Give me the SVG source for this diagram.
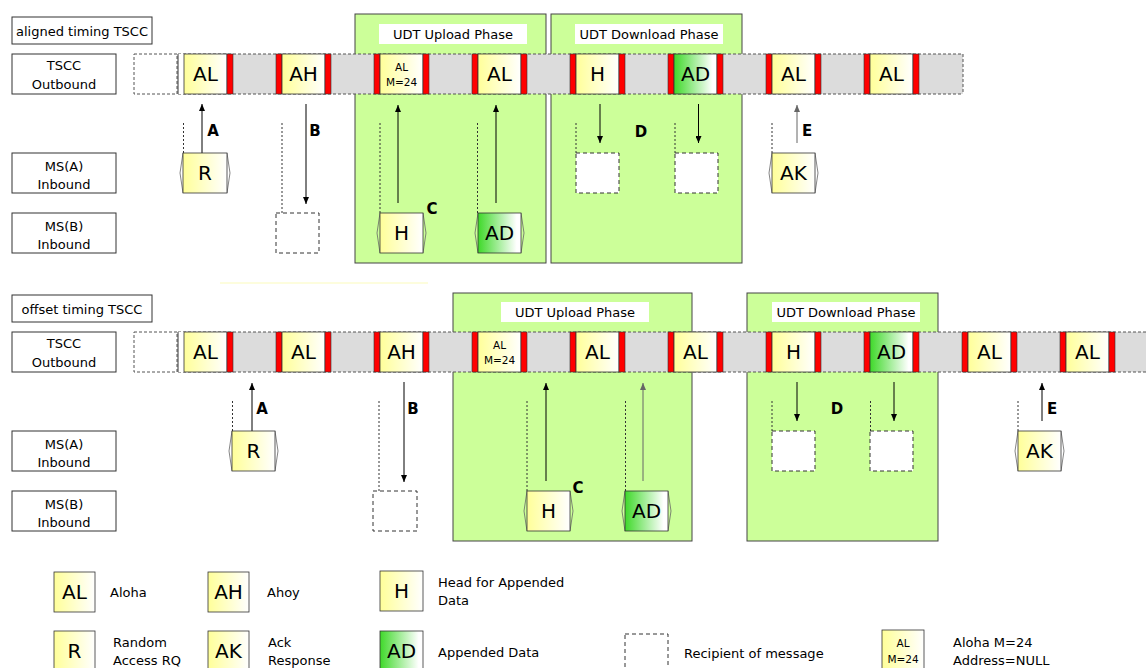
<svg xmlns="http://www.w3.org/2000/svg" width="1146" height="668" viewBox="0 0 1146 668">
<defs>
<linearGradient id="gy" x1="0" y1="0" x2="1" y2="0"><stop offset="0" stop-color="#ffff99"/><stop offset="1" stop-color="#ffffff"/></linearGradient>
<linearGradient id="gg" x1="0" y1="0" x2="1" y2="0"><stop offset="0" stop-color="#3fd92a"/><stop offset="0.9" stop-color="#ffffff"/></linearGradient>
<marker id="ah" markerWidth="7" markerHeight="6" viewBox="0 0 7 6" refX="7" refY="3" orient="auto" markerUnits="userSpaceOnUse"><path d="M0,0 L7,3 L0,6 z" fill="#000"/></marker>
<marker id="ahg" markerWidth="7" markerHeight="6" viewBox="0 0 7 6" refX="7" refY="3" orient="auto" markerUnits="userSpaceOnUse"><path d="M0,0 L7,3 L0,6 z" fill="#666"/></marker>
</defs>
<style>
.lb{fill:#fff;stroke:#333;stroke-width:1}
.t{font-family:"DejaVu Sans",sans-serif;fill:#000}
.ph{fill:#ccff99;stroke:#444;stroke-width:1}
.pt{fill:#fff}
.strip{fill:#dcdcdc}
.sd{stroke:#555;stroke-width:1;stroke-dasharray:3 2;fill:none}
.wb{fill:#fff;stroke:#555;stroke-width:1;stroke-dasharray:3 2}
.red{fill:#ff0000;stroke:#333;stroke-width:0.6}
.cy{fill:url(#gy);stroke:#333;stroke-width:0.8}
.cg{fill:url(#gg);stroke:#333;stroke-width:0.8}
.db{fill:#fff;stroke:#333;stroke-width:1;stroke-dasharray:4 3}
.dl{stroke:#333;stroke-width:1;stroke-dasharray:2 2}
.ar{stroke:#000;stroke-width:1;marker-end:url(#ah)}
.arg{stroke:#666;stroke-width:1;marker-end:url(#ahg)}
.ch{fill:none;stroke:#666;stroke-width:0.8}
.big{font-size:20px;text-anchor:middle}
.sm{font-size:10.5px;text-anchor:middle}
.let{font-size:15px;font-weight:bold;text-anchor:middle}
.lt{font-size:13px}
.c{text-anchor:middle}
</style>

<!-- faint line -->
<line x1="220" y1="283" x2="428" y2="283" stroke="#fcfcd2" stroke-width="1.5"/>

<!-- Row labels -->
<g id="r1-label"><rect class="lb" x="12" y="17" width="140" height="27"/><text class="t lt c" x="82" y="36">aligned timing TSCC</text></g>
<g id="r1-out"><rect class="lb" x="12" y="54" width="104" height="40"/><text class="t lt c" x="64" y="70">TSCC</text><text class="t lt c" x="64" y="89">Outbound</text></g>
<g id="r1-msa"><rect class="lb" x="12" y="153" width="104" height="40"/><text class="t lt c" x="64" y="171">MS(A)</text><text class="t lt c" x="64" y="189">Inbound</text></g>
<g id="r1-msb"><rect class="lb" x="12" y="213" width="104" height="40"/><text class="t lt c" x="64" y="231">MS(B)</text><text class="t lt c" x="64" y="249">Inbound</text></g>

<g id="r2-label"><rect class="lb" x="12" y="295" width="140" height="27"/><text class="t lt c" x="82" y="314">offset timing TSCC</text></g>
<g id="r2-out"><rect class="lb" x="12" y="332" width="104" height="40"/><text class="t lt c" x="64" y="348">TSCC</text><text class="t lt c" x="64" y="367">Outbound</text></g>
<g id="r2-msa"><rect class="lb" x="12" y="431" width="104" height="40"/><text class="t lt c" x="64" y="449">MS(A)</text><text class="t lt c" x="64" y="467">Inbound</text></g>
<g id="r2-msb"><rect class="lb" x="12" y="491" width="104" height="40"/><text class="t lt c" x="64" y="509">MS(B)</text><text class="t lt c" x="64" y="527">Inbound</text></g>

<!-- Phase boxes -->
<g id="r1-upload"><rect class="ph" x="355" y="14" width="191" height="249"/></g>
<g id="r1-download"><rect class="ph" x="551" y="14" width="191" height="249"/></g>
<g id="r2-upload"><rect class="ph" x="453" y="293" width="239" height="248"/></g>
<g id="r2-download"><rect class="ph" x="747" y="293" width="191" height="248"/></g>

<!-- Row 1 strip -->
<g id="r1-strip">
<rect class="wb" x="134" y="54" width="43" height="40"/>
<rect class="strip" x="178" y="54" width="785" height="40"/>
<line class="sd" x1="178" y1="54" x2="963" y2="54"/>
<line class="sd" x1="178" y1="94" x2="963" y2="94"/>
<line class="sd" x1="963" y1="54" x2="963" y2="94"/>
<rect x="178" y="54" width="6" height="40" fill="#fff"/>
<line x1="178" y1="54" x2="178" y2="94" stroke="#333" stroke-width="1"/>
</g>
<g id="r1-s0"><rect class="cy" x="184" y="54" width="43" height="40"/><rect class="red" x="227" y="54" width="6" height="40"/><text class="t big" x="205.5" y="81">AL</text></g>
<g id="r1-s1"><rect class="red" x="276" y="54" width="6" height="40"/><rect class="cy" x="282" y="54" width="43" height="40"/><rect class="red" x="325" y="54" width="6" height="40"/><text class="t big" x="303.5" y="81">AH</text></g>
<g id="r1-s2"><rect class="red" x="374" y="54" width="6" height="40"/><rect class="cy" x="380" y="54" width="43" height="40"/><rect class="red" x="423" y="54" width="6" height="40"/><text class="t sm" x="401.5" y="71">AL</text><text class="t sm" x="401.5" y="86">M=24</text></g>
<g id="r1-s3"><rect class="red" x="472" y="54" width="6" height="40"/><rect class="cy" x="478" y="54" width="43" height="40"/><rect class="red" x="521" y="54" width="6" height="40"/><text class="t big" x="499.5" y="81">AL</text></g>
<g id="r1-s4"><rect class="red" x="570" y="54" width="6" height="40"/><rect class="cy" x="576" y="54" width="43" height="40"/><rect class="red" x="619" y="54" width="6" height="40"/><text class="t big" x="597.5" y="81">H</text></g>
<g id="r1-s5"><rect class="red" x="668" y="54" width="6" height="40"/><rect class="cg" x="674" y="54" width="43" height="40"/><rect class="red" x="717" y="54" width="6" height="40"/><text class="t big" x="695.5" y="81">AD</text></g>
<g id="r1-s6"><rect class="red" x="766" y="54" width="6" height="40"/><rect class="cy" x="772" y="54" width="43" height="40"/><rect class="red" x="815" y="54" width="6" height="40"/><text class="t big" x="793.5" y="81">AL</text></g>
<g id="r1-s7"><rect class="red" x="864" y="54" width="6" height="40"/><rect class="cy" x="870" y="54" width="43" height="40"/><rect class="red" x="913" y="54" width="6" height="40"/><text class="t big" x="891.5" y="81">AL</text></g>

<!-- Row 2 strip -->
<g id="r2-strip">
<rect class="wb" x="134" y="332" width="43" height="40"/>
<rect class="strip" x="178" y="332" width="970" height="40"/>
<line class="sd" x1="178" y1="332" x2="1148" y2="332"/>
<line class="sd" x1="178" y1="372" x2="1148" y2="372"/>
<rect x="178" y="332" width="6" height="40" fill="#fff"/>
<line x1="178" y1="332" x2="178" y2="372" stroke="#333" stroke-width="1"/>
</g>
<g id="r2-s0"><rect class="cy" x="184" y="332" width="43" height="40"/><rect class="red" x="227" y="332" width="6" height="40"/><text class="t big" x="205.5" y="359">AL</text></g>
<g id="r2-s1"><rect class="red" x="276" y="332" width="6" height="40"/><rect class="cy" x="282" y="332" width="43" height="40"/><rect class="red" x="325" y="332" width="6" height="40"/><text class="t big" x="303.5" y="359">AL</text></g>
<g id="r2-s2"><rect class="red" x="374" y="332" width="6" height="40"/><rect class="cy" x="380" y="332" width="43" height="40"/><rect class="red" x="423" y="332" width="6" height="40"/><text class="t big" x="401.5" y="359">AH</text></g>
<g id="r2-s3"><rect class="red" x="472" y="332" width="6" height="40"/><rect class="cy" x="478" y="332" width="43" height="40"/><rect class="red" x="521" y="332" width="6" height="40"/><text class="t sm" x="499.5" y="349">AL</text><text class="t sm" x="499.5" y="364">M=24</text></g>
<g id="r2-s4"><rect class="red" x="570" y="332" width="6" height="40"/><rect class="cy" x="576" y="332" width="43" height="40"/><rect class="red" x="619" y="332" width="6" height="40"/><text class="t big" x="597.5" y="359">AL</text></g>
<g id="r2-s5"><rect class="red" x="668" y="332" width="6" height="40"/><rect class="cy" x="674" y="332" width="43" height="40"/><rect class="red" x="717" y="332" width="6" height="40"/><text class="t big" x="695.5" y="359">AL</text></g>
<g id="r2-s6"><rect class="red" x="766" y="332" width="6" height="40"/><rect class="cy" x="772" y="332" width="43" height="40"/><rect class="red" x="815" y="332" width="6" height="40"/><text class="t big" x="793.5" y="359">H</text></g>
<g id="r2-s7"><rect class="red" x="864" y="332" width="6" height="40"/><rect class="cg" x="870" y="332" width="43" height="40"/><rect class="red" x="913" y="332" width="6" height="40"/><text class="t big" x="891.5" y="359">AD</text></g>
<g id="r2-s8"><rect class="red" x="962" y="332" width="6" height="40"/><rect class="cy" x="968" y="332" width="43" height="40"/><rect class="red" x="1011" y="332" width="6" height="40"/><text class="t big" x="989.5" y="359">AL</text></g>
<g id="r2-s9"><rect class="red" x="1060" y="332" width="6" height="40"/><rect class="cy" x="1066" y="332" width="43" height="40"/><rect class="red" x="1109" y="332" width="6" height="40"/><text class="t big" x="1087.5" y="359">AL</text></g>

<!-- Phase titles -->
<g id="r1-upload-title"><rect class="pt" x="379" y="24" width="148" height="20"/><text class="t lt c" x="453" y="39">UDT Upload Phase</text></g>
<g id="r1-download-title"><rect class="pt" x="575" y="24" width="148" height="20"/><text class="t lt c" x="649" y="39">UDT Download Phase</text></g>
<g id="r2-upload-title"><rect class="pt" x="501" y="302" width="148" height="20"/><text class="t lt c" x="575" y="317">UDT Upload Phase</text></g>
<g id="r2-download-title"><rect class="pt" x="772" y="302" width="148" height="20"/><text class="t lt c" x="846" y="317">UDT Download Phase</text></g>

<!-- Connectors -->
<g id="connectors">
<line class="dl" x1="183.5" y1="123" x2="183.5" y2="153"/>
<line class="ar" x1="202" y1="153" x2="202" y2="104"/>
<line class="dl" x1="282" y1="123" x2="282" y2="213"/>
<line class="ar" x1="306" y1="104" x2="306" y2="204"/>
<line class="dl" x1="380" y1="123" x2="380" y2="213"/>
<line class="ar" x1="398" y1="203" x2="398" y2="105"/>
<line class="dl" x1="477.5" y1="123" x2="477.5" y2="213"/>
<line class="ar" x1="496" y1="203" x2="496" y2="105"/>
<line class="dl" x1="576" y1="123" x2="576" y2="153"/>
<line class="ar" x1="600" y1="104" x2="600" y2="143"/>
<line class="dl" x1="675" y1="123" x2="675" y2="153"/>
<line class="ar" x1="698.5" y1="104" x2="698.5" y2="143"/>
<line class="dl" x1="772" y1="123" x2="772" y2="153"/>
<line class="arg" x1="797" y1="143" x2="797" y2="105"/>

<line class="dl" x1="232.5" y1="401" x2="232.5" y2="431"/>
<line class="ar" x1="252" y1="431" x2="252" y2="383"/>
<line class="dl" x1="379" y1="401" x2="379" y2="491"/>
<line class="ar" x1="404" y1="382" x2="404" y2="482"/>
<line class="dl" x1="527" y1="401" x2="527" y2="491"/>
<line class="ar" x1="546" y1="481" x2="546" y2="383"/>
<line class="dl" x1="625.5" y1="401" x2="625.5" y2="491"/>
<line class="arg" x1="643" y1="481" x2="643" y2="383"/>
<line class="dl" x1="772" y1="401" x2="772" y2="431"/>
<line class="ar" x1="797" y1="382" x2="797" y2="421"/>
<line class="dl" x1="870.5" y1="401" x2="870.5" y2="431"/>
<line class="ar" x1="894" y1="382" x2="894" y2="421"/>
<line class="dl" x1="1018" y1="401" x2="1018" y2="431"/>
<line class="ar" x1="1042" y1="421" x2="1042" y2="383"/>

<text class="t let" x="213" y="136">A</text>
<text class="t let" x="315" y="136">B</text>
<text class="t let" x="432" y="214">C</text>
<text class="t let" x="641" y="137">D</text>
<text class="t let" x="807" y="136">E</text>
<text class="t let" x="262" y="414">A</text>
<text class="t let" x="413" y="414">B</text>
<text class="t let" x="578" y="493">C</text>
<text class="t let" x="837" y="414">D</text>
<text class="t let" x="1052" y="414">E</text>
</g>

<!-- MS bursts row 1 -->
<g id="r1-R"><polyline class="ch" points="183,153 180,173 183,193"/><polyline class="ch" points="227,153 230,173 227,193"/><rect class="cy" x="183" y="153" width="44" height="40"/><text class="t big" x="205" y="180">R</text></g>
<g id="r1-B"><rect class="db" x="276" y="213" width="43" height="40"/></g>
<g id="r1-H"><polyline class="ch" points="380,213 377,233 380,253"/><polyline class="ch" points="423,213 426,233 423,253"/><rect class="cy" x="380" y="213" width="43" height="40"/><text class="t big" x="401.5" y="240">H</text></g>
<g id="r1-AD"><polyline class="ch" points="478,213 475,233 478,253"/><polyline class="ch" points="521,213 524,233 521,253"/><rect class="cg" x="478" y="213" width="43" height="40"/><text class="t big" x="499.5" y="240">AD</text></g>
<g id="r1-D1"><rect class="db" x="576" y="153" width="43" height="40"/></g>
<g id="r1-D2"><rect class="db" x="675" y="153" width="43" height="40"/></g>
<g id="r1-AK"><polyline class="ch" points="772,153 769,173 772,193"/><polyline class="ch" points="815,153 818,173 815,193"/><rect class="cy" x="772" y="153" width="43" height="40"/><text class="t big" x="793.5" y="180">AK</text></g>

<!-- MS bursts row 2 -->
<g id="r2-R"><polyline class="ch" points="232,431 229,451 232,471"/><polyline class="ch" points="275,431 278,451 275,471"/><rect class="cy" x="232" y="431" width="43" height="40"/><text class="t big" x="253.5" y="458">R</text></g>
<g id="r2-B"><rect class="db" x="373" y="491" width="44" height="40"/></g>
<g id="r2-H"><polyline class="ch" points="527,491 524,511 527,531"/><polyline class="ch" points="570,491 573,511 570,531"/><rect class="cy" x="527" y="491" width="43" height="40"/><text class="t big" x="548.5" y="518">H</text></g>
<g id="r2-AD"><polyline class="ch" points="625,491 622,511 625,531"/><polyline class="ch" points="668,491 671,511 668,531"/><rect class="cg" x="625" y="491" width="43" height="40"/><text class="t big" x="646.5" y="518">AD</text></g>
<g id="r2-D1"><rect class="db" x="772" y="431" width="43" height="40"/></g>
<g id="r2-D2"><rect class="db" x="870" y="431" width="43" height="40"/></g>
<g id="r2-AK"><polyline class="ch" points="1018,431 1015,451 1018,471"/><polyline class="ch" points="1061,431 1064,451 1061,471"/><rect class="cy" x="1018" y="431" width="43" height="40"/><text class="t big" x="1039.5" y="458">AK</text></g>

<!-- Legend -->
<g id="leg-AL"><rect class="cy" x="54" y="572" width="41" height="40"/><text class="t big" x="74.5" y="599">AL</text><text class="t lt" x="110" y="597">Aloha</text></g>
<g id="leg-AH"><rect class="cy" x="208" y="572" width="41" height="40"/><text class="t big" x="228.5" y="599">AH</text><text class="t lt" x="267" y="597">Ahoy</text></g>
<g id="leg-H"><rect class="cy" x="380" y="571" width="43" height="40"/><text class="t big" x="401.5" y="598">H</text><text class="t lt" x="438" y="587">Head for Appended</text><text class="t lt" x="438" y="605">Data</text></g>
<g id="leg-R"><rect class="cy" x="54" y="631" width="41" height="40"/><text class="t big" x="74.5" y="658">R</text><text class="t lt" x="113" y="647">Random</text><text class="t lt" x="113" y="665">Access RQ</text></g>
<g id="leg-AK"><rect class="cy" x="208" y="631" width="41" height="40"/><text class="t big" x="228.5" y="658">AK</text><text class="t lt" x="268" y="647">Ack</text><text class="t lt" x="268" y="665">Response</text></g>
<g id="leg-AD"><rect class="cg" x="380" y="631" width="43" height="40"/><text class="t big" x="401.5" y="658">AD</text><text class="t lt" x="438" y="657">Appended Data</text></g>
<g id="leg-rcpt"><rect class="db" x="625" y="634" width="43" height="40"/><text class="t lt" x="684" y="658">Recipient of message</text></g>
<g id="leg-ALM"><rect class="cy" x="882" y="630" width="42" height="40"/><text class="t sm" x="903" y="647">AL</text><text class="t sm" x="903" y="663">M=24</text><text class="t lt" x="953" y="647">Aloha M=24</text><text class="t lt" x="953" y="665">Address=NULL</text></g>
</svg>
